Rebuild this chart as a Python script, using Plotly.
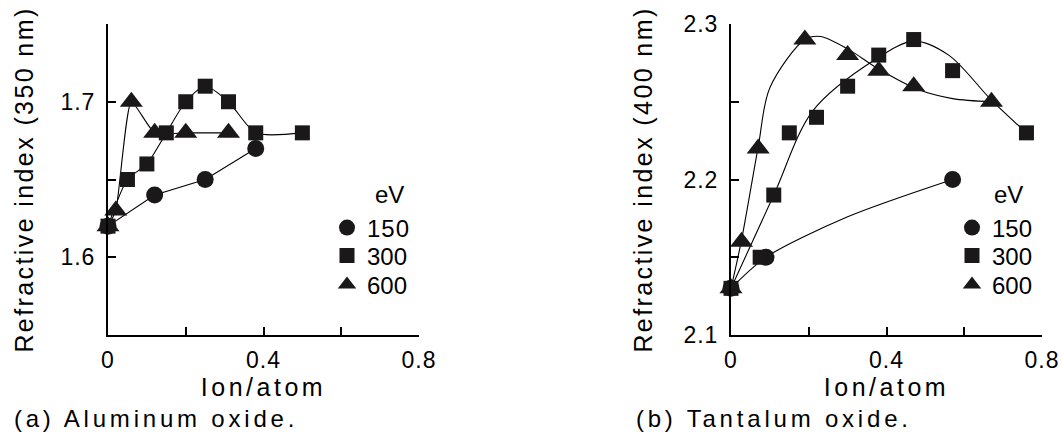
import plotly.graph_objects as go

# ---------------- data ----------------
energies = ["150", "300", "600"]
symbols = ["circle", "square", "triangle-up"]

# (a) Aluminum oxide, refractive index at 350 nm
al_150_x = [0.0, 0.12, 0.25, 0.38]
al_150_y = [1.62, 1.64, 1.65, 1.67]
al_300_x = [0.0, 0.05, 0.10, 0.15, 0.20, 0.25, 0.31, 0.38, 0.50]
al_300_y = [1.62, 1.65, 1.66, 1.68, 1.70, 1.71, 1.70, 1.68, 1.68]
al_600_x = [0.0, 0.02, 0.06, 0.12, 0.20, 0.31]
al_600_y = [1.62, 1.63, 1.70, 1.68, 1.68, 1.68]

# (b) Tantalum oxide, refractive index at 400 nm
ta_150_x = [0.0, 0.09, 0.57]
ta_150_y = [2.13, 2.15, 2.20]
ta_300_x = [0.0, 0.075, 0.11, 0.15, 0.22, 0.30, 0.38, 0.47, 0.57, 0.76]
ta_300_y = [2.13, 2.15, 2.19, 2.23, 2.24, 2.26, 2.28, 2.29, 2.27, 2.23]
ta_600_x = [0.0, 0.027, 0.07, 0.19, 0.30, 0.38, 0.47, 0.67]
ta_600_y = [2.13, 2.16, 2.22, 2.29, 2.28, 2.27, 2.26, 2.25]

# smooth guide curves drawn in panel (b) (knots)
ta_150_fit_x = [0.0, 0.09, 0.30, 0.57]
ta_150_fit_y = [2.13, 2.15, 2.176, 2.20]
ta_300_fit_x = [0.0, 0.11, 0.21, 0.37, 0.47, 0.56, 0.67, 0.76]
ta_300_fit_y = [2.13, 2.19, 2.244, 2.277, 2.289, 2.28, 2.251, 2.23]
ta_600_fit_x = [0.0, 0.027, 0.07, 0.10, 0.19, 0.23, 0.30, 0.38, 0.48, 0.57, 0.67]
ta_600_fit_y = [2.13, 2.161, 2.221, 2.259, 2.29, 2.292, 2.284, 2.271, 2.258, 2.252, 2.25]

# axes / ticks
x_tickvals = [0, 0.2, 0.4, 0.6, 0.8]
x_ticktext = ["0", "", "0.4", "", "0.8"]
al_y_tickvals = [1.55, 1.6, 1.65, 1.7, 1.75]
al_y_ticktext = ["", "1.6", "", "1.7", ""]
ta_y_tickvals = [2.1, 2.15, 2.2, 2.25, 2.3]
ta_y_ticktext = ["2.1", "", "2.2", "", "2.3"]

# ---------------- styling ----------------
W, H = 1062, 436
FONT = "Liberation Sans, Arial, Helvetica, sans-serif"
INK = "#1a1818"
MSIZE = {"circle": 17, "square": 15, "triangle-up": 20}


def px(xp):
    return xp / W


def py(yp):
    return 1 - yp / H


fig = go.Figure()


def add_line(x, y, xa, ya, shape="spline", smoothing=0.8):
    fig.add_trace(go.Scatter(
        x=x, y=y, xaxis=xa, yaxis=ya, mode="lines",
        line=dict(color="black", width=1.1, shape=shape, smoothing=smoothing),
        showlegend=False, hoverinfo="skip", cliponaxis=False))


def add_markers(x, y, xa, ya, sym):
    fig.add_trace(go.Scatter(
        x=x, y=y, xaxis=xa, yaxis=ya, mode="markers",
        marker=dict(symbol=sym, size=MSIZE[sym], color=INK,
                    line=dict(width=0)),
        showlegend=False, cliponaxis=False))


# panel (a)
add_line(al_150_x, al_150_y, "x", "y", shape="linear")
add_line(al_300_x, al_300_y, "x", "y", smoothing=0.7)
add_line(al_600_x, al_600_y, "x", "y", smoothing=0.5)
add_markers(al_150_x, al_150_y, "x", "y", "circle")
add_markers(al_300_x, al_300_y, "x", "y", "square")
add_markers(al_600_x, al_600_y, "x", "y", "triangle-up")

# panel (b)
add_line(ta_150_fit_x, ta_150_fit_y, "x2", "y2", smoothing=0.8)
add_line(ta_300_fit_x, ta_300_fit_y, "x2", "y2", smoothing=0.9)
add_line(ta_600_fit_x, ta_600_fit_y, "x2", "y2", smoothing=0.9)
add_markers(ta_150_x, ta_150_y, "x2", "y2", "circle")
add_markers(ta_300_x, ta_300_y, "x2", "y2", "square")
add_markers(ta_600_x, ta_600_y, "x2", "y2", "triangle-up")

# legend entries (one legend per entry so that the rows sit like the original)
legend_rows_y = [228, 256, 285]
legend_left_x = {"x": 327, "x2": 952}
legend_layouts = {}
k = 0
for xa, ya in (("x", "y"), ("x2", "y2")):
    for i, (e, sym) in enumerate(zip(energies, symbols)):
        k += 1
        lname = "legend" if k == 1 else f"legend{k}"
        fig.add_trace(go.Scatter(
            x=[None], y=[None], xaxis=xa, yaxis=ya, mode="markers", name=e,
            marker=dict(symbol=sym, size=MSIZE[sym], color=INK, line=dict(width=0)),
            legend=lname, showlegend=True))
        legend_layouts[lname] = dict(
            x=px(legend_left_x[xa]), y=py(legend_rows_y[i]),
            xanchor="left", yanchor="middle",
            bgcolor="rgba(0,0,0,0)", borderwidth=0,
            font=dict(family=FONT, size=24, color="black"))

axis_common = dict(
    showline=True, linecolor="black", linewidth=2, mirror=False,
    ticks="inside", ticklen=8, tickwidth=2, tickcolor="black",
    showgrid=False, zeroline=False, automargin=False,
    tickfont=dict(family=FONT, size=23, color="black"),
)

fig.update_layout(
    width=W, height=H,
    margin=dict(l=0, r=0, t=0, b=0, autoexpand=False),
    paper_bgcolor="white", plot_bgcolor="white",
    font=dict(family=FONT, color="black"),
    xaxis=dict(axis_common, domain=[px(108), px(419)], range=[0, 0.8],
               tickvals=x_tickvals, ticktext=x_ticktext, anchor="y",
               ticklabelstandoff=3,
               title=dict(text="Ion/atom", font=dict(family=FONT, size=25), standoff=6)),
    yaxis=dict(axis_common, domain=[py(335), py(24)], range=[1.55, 1.75],
               tickvals=al_y_tickvals, ticktext=al_y_ticktext, anchor="x",
               ticklabelstandoff=6,
               title=dict(text="Refractive index (350 nm)", font=dict(family=FONT, size=25), standoff=23)),
    xaxis2=dict(axis_common, domain=[px(731), px(1042)], range=[0, 0.8],
                tickvals=x_tickvals, ticktext=x_ticktext, anchor="y2",
                ticklabelstandoff=3,
                title=dict(text="Ion/atom", font=dict(family=FONT, size=25), standoff=6)),
    yaxis2=dict(axis_common, domain=[py(335), py(24)], range=[2.1, 2.3],
                tickvals=ta_y_tickvals, ticktext=ta_y_ticktext, anchor="x2",
                ticklabelstandoff=6,
                title=dict(text="Refractive index (400 nm)", font=dict(family=FONT, size=25), standoff=27)),
    **legend_layouts,
)

ann_font = dict(family=FONT, size=24, color="black")
fig.add_annotation(text="eV", xref="paper", yref="paper", x=px(389), y=py(194),
                   xanchor="center", yanchor="middle", showarrow=False, font=ann_font)
fig.add_annotation(text="eV", xref="paper", yref="paper", x=px(1008), y=py(194),
                   xanchor="center", yanchor="middle", showarrow=False, font=ann_font)
fig.add_annotation(text="(a) Aluminum oxide.", xref="paper", yref="paper", x=px(156), y=py(418),
                   xanchor="center", yanchor="middle", showarrow=False, font=ann_font)
fig.add_annotation(text="(b) Tantalum oxide.", xref="paper", yref="paper", x=px(774), y=py(418),
                   xanchor="center", yanchor="middle", showarrow=False, font=ann_font)

# page without the default body margin, and the widely spaced lettering of the original
post = """
document.body.style.margin = '0';
document.body.style.padding = '0';
document.body.style.overflow = 'hidden';
var gd = document.getElementById('{plot_id}');
function sp(sel, v){ gd.querySelectorAll(sel).forEach(function(t){ t.style.letterSpacing = v; }); }
sp('text.xtitle, text.x2title', '3.5px');
sp('text.ytitle, text.y2title', '2.4px');
gd.querySelectorAll('g.annotation text').forEach(function(t){
  if (t.textContent.charAt(0) === '(') { t.style.letterSpacing = '3.8px'; }
});
sp('text.legendtext', '1px');
sp('g.xtick text, g.x2tick text, g.ytick text, g.y2tick text', '1px');
"""

fig.write_html("out.html", post_script=post, config={"displayModeBar": False})
